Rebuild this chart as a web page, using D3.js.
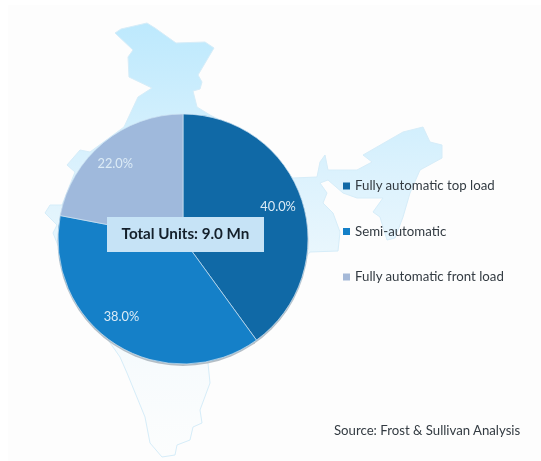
<!DOCTYPE html>
<html>
<head>
<meta charset="utf-8">
<script src="https://cdn.jsdelivr.net/npm/d3@7.9.0/dist/d3.min.js"></script>
<style>
  html, body { margin: 0; padding: 0; background: #fff; }
  svg { display: block; filter: blur(0.35px); }
  text { font-family: Lato, "Open Sans", sans-serif; }
</style>
</head>
<body>
<svg id="chart" width="541" height="461"></svg>
<script>
// ---- Data ----
const categories = ['Fully automatic top load', 'Semi-automatic', 'Fully automatic front load'];
const shares = [40.0, 38.0, 22.0];
const sliceColors = ['#1069a6', '#1580c8', '#9fb9dc'];
const legendColors = ['#1069a6', '#1580c8', '#a5b9d8'];
const totalLabel = 'Total Units: 9.0 Mn';
const sourceLabel = 'Source: Frost & Sullivan Analysis';

// backdrop silhouette, traced in picture pixels
const mapOutline = [
  [115,33],[121,29],[147,23],[155,28],[176,43],[205,42],[214,48],[198,75],[202,82],[200,89],
  [193,91],[197,107],[210,115],[250,135],[293,178],[317,177],[320,162],[325,155],[328,170],
  [357,170],[372,162],[363,155],[403,132],[423,127],[430,142],[442,145],[442,158],[420,170],
  [410,193],[403,217],[395,238],[387,240],[380,217],[373,212],[383,198],[357,198],[343,193],
  [328,180],[320,183],[327,193],[323,203],[333,213],[340,232],[338,251],[310,252],[270,300],
  [208,363],[210,383],[200,410],[202,423],[193,427],[190,440],[177,445],[175,455],[162,457],
  [150,443],[145,417],[127,373],[120,357],[80,300],[53,233],[57,225],[45,213],[50,205],
  [62,205],[75,172],[67,165],[80,150],[90,152],[124,127],[138,97],[152,88],[129,77],[128,57],
  [133,50]
];

// ---- Layout ----
const svg = d3.select('#chart');
const cx = 183, cy = 239, radius = 125;

const defs = svg.append('defs');
const grad = defs.append('linearGradient')
  .attr('id', 'mapFill').attr('x1', 0).attr('y1', 0).attr('x2', 0).attr('y2', 1);
grad.append('stop').attr('offset', '0%').attr('stop-color', '#bde9fd');
grad.append('stop').attr('offset', '35%').attr('stop-color', '#dcf2fd');
grad.append('stop').attr('offset', '60%').attr('stop-color', '#eef8fd');
grad.append('stop').attr('offset', '80%').attr('stop-color', '#f7fbfd');
grad.append('stop').attr('offset', '100%').attr('stop-color', '#fcfdfd');

// off-white page panel
svg.append('rect')
  .attr('x', 8).attr('y', 5).attr('width', 533).attr('height', 456)
  .attr('fill', '#fdfdfd');

// ---- India silhouette ----
svg.append('path')
  .attr('d', d3.line().curve(d3.curveLinearClosed)(mapOutline))
  .attr('fill', 'url(#mapFill)')
  .attr('stroke', '#d6edf9')
  .attr('stroke-width', 1);

// ---- Pie ----
const pie = d3.pie().sort(null).value((d) => d);
const arcGenerator = d3.arc().innerRadius(0).outerRadius(radius);
const labelArc = d3.arc().innerRadius(100).outerRadius(100);
const arcs = pie(shares);

const g = svg.append('g').attr('transform', `translate(${cx},${cy})`);

// soft rim shadow under the pie
g.append('circle')
  .attr('cx', 0).attr('cy', 1.5).attr('r', radius + 0.5)
  .attr('fill', '#b4bec6');

g.selectAll('path.slice')
  .data(arcs)
  .join('path')
  .attr('class', 'slice')
  .attr('d', arcGenerator)
  .attr('fill', (_, i) => sliceColors[i])
  .attr('stroke', '#cfe4f3')
  .attr('stroke-width', 0.7);

const labelNudge = [[0, 0], [-8, -6], [-4, 3]];
g.selectAll('text.share')
  .data(arcs)
  .join('text')
  .attr('class', 'share')
  .attr('x', (d, i) => labelArc.centroid(d)[0] + labelNudge[i][0])
  .attr('y', (d, i) => labelArc.centroid(d)[1] + labelNudge[i][1])
  .attr('text-anchor', 'middle')
  .attr('dominant-baseline', 'middle')
  .attr('font-size', 12.8)
  .attr('fill', '#dcebf6')
  .text((d) => `${d.value.toFixed(1)}%`);

// ---- Total box ----
svg.append('rect')
  .attr('x', 107).attr('y', 217).attr('width', 157).attr('height', 35)
  .attr('fill', '#c6e3f6');
svg.append('text')
  .attr('x', 185.5).attr('y', 235.5)
  .attr('text-anchor', 'middle')
  .attr('dominant-baseline', 'middle')
  .attr('font-size', 15.2)
  .attr('font-weight', 700)
  .attr('fill', '#14202b')
  .text(totalLabel);

// ---- Legend ----
const legendY = d3.scalePoint().domain(categories).range([186, 277]);
const legend = svg.selectAll('g.legend')
  .data(categories)
  .join('g')
  .attr('class', 'legend')
  .attr('transform', (d) => `translate(343,${legendY(d)})`);
legend.append('rect')
  .attr('x', 0).attr('y', -3.5).attr('width', 7).attr('height', 7)
  .attr('fill', (_, i) => legendColors[i]);
legend.append('text')
  .attr('x', 12).attr('y', 1)
  .attr('dominant-baseline', 'middle')
  .attr('font-size', 13.25)
  .attr('fill', '#333b42')
  .text((d) => d);

// ---- Source ----
svg.append('text')
  .attr('x', 334).attr('y', 432)
  .attr('dominant-baseline', 'middle')
  .attr('font-size', 13.2)
  .attr('fill', '#333b42')
  .text(sourceLabel);
</script>
</body>
</html>
